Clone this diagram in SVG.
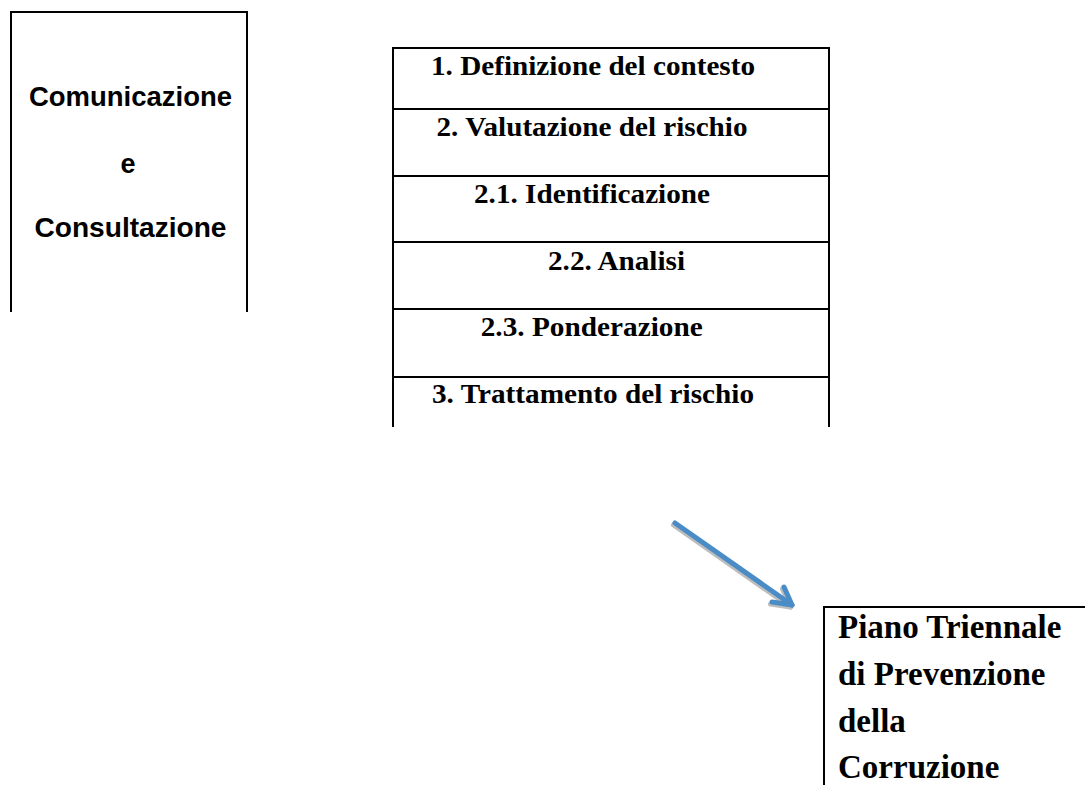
<svg xmlns="http://www.w3.org/2000/svg" width="1085" height="785" viewBox="0 0 1085 785">
<style>
.frame{fill:none;stroke:#000;stroke-width:2}
.sep{stroke:#000;stroke-width:2}
.sans{font-family:"Liberation Sans",Arial,sans-serif;font-weight:bold;font-size:27px;fill:#000}
.serif{font-family:"Liberation Serif","Times New Roman",serif;font-weight:bold;font-size:28px;fill:#000}
.big{font-family:"Liberation Serif","Times New Roman",serif;font-weight:bold;font-size:33px;fill:#000}
.arrow{fill:none;stroke:#4a8cc6;stroke-width:5;stroke-linecap:round;stroke-linejoin:round}
.shadow{fill:none;stroke:#bdbdbd;stroke-width:5;stroke-linecap:round;stroke-linejoin:round}
</style>
<rect width="1085" height="785" fill="#fff"/>
<g id="comunicazione">
<path class="frame" d="M11,312 V12 H247 V312"/>
<text class="sans" x="130.5" y="106" text-anchor="middle" textLength="203" lengthAdjust="spacingAndGlyphs">Comunicazione</text>
<text class="sans" x="128" y="173" text-anchor="middle">e</text>
<text class="sans" x="130.5" y="237" text-anchor="middle" textLength="192" lengthAdjust="spacingAndGlyphs">Consultazione</text>
</g>
<g id="processo">
<path class="frame" d="M393,427 V48 H829 V427"/>
<line class="sep" x1="393" y1="109" x2="829" y2="109"/>
<line class="sep" x1="393" y1="176" x2="829" y2="176"/>
<line class="sep" x1="393" y1="242" x2="829" y2="242"/>
<line class="sep" x1="393" y1="309" x2="829" y2="309"/>
<line class="sep" x1="393" y1="377" x2="829" y2="377"/>
<text class="serif" x="593" y="75" text-anchor="middle" textLength="324" lengthAdjust="spacingAndGlyphs">1. Definizione del contesto</text>
<text class="serif" x="592" y="136" text-anchor="middle" textLength="311" lengthAdjust="spacingAndGlyphs">2. Valutazione del rischio</text>
<text class="serif" x="592" y="203" text-anchor="middle" textLength="236" lengthAdjust="spacingAndGlyphs">2.1. Identificazione</text>
<text class="serif" x="616.5" y="270" text-anchor="middle" textLength="137" lengthAdjust="spacingAndGlyphs">2.2. Analisi</text>
<text class="serif" x="591.7" y="336" text-anchor="middle" textLength="222" lengthAdjust="spacingAndGlyphs">2.3. Ponderazione</text>
<text class="serif" x="593" y="403" text-anchor="middle" textLength="322" lengthAdjust="spacingAndGlyphs">3. Trattamento del rischio</text>
</g>
<g id="piano">
<path class="frame" d="M824,785 V607 H1086"/>
<text class="big" x="838" y="638">Piano Triennale</text>
<text class="big" x="838" y="685">di Prevenzione</text>
<text class="big" x="838" y="731.5">della</text>
<text class="big" x="838" y="778">Corruzione</text>
</g>
<g id="connectors">
<g transform="translate(-1.5,2)">
<path class="shadow" d="M675,523 L792,605"/>
<path class="shadow" d="M784,587 L792,605 L772,602"/>
</g>
<path class="arrow" d="M675,523 L792,605"/>
<path class="arrow" d="M784,587 L792,605 L772,602"/>
</g>
</svg>
